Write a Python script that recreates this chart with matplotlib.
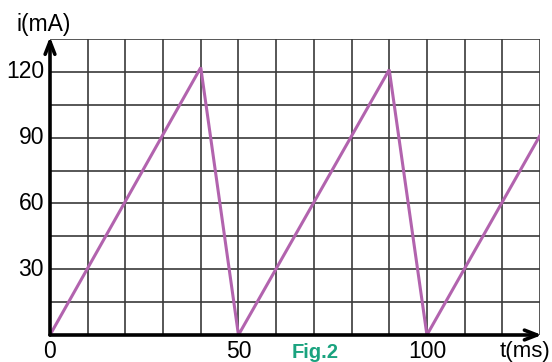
import matplotlib
matplotlib.use("Agg")
import matplotlib.pyplot as plt

# donnees
t_ms = [0, 40, 50, 90, 100, 130]
i_mA = [0, 122, 0, 121, 0, 91]
x_ticks = [0, 50, 100]
y_ticks = [30, 60, 90, 120]

plt.rcParams['font.family'] = ['Liberation Sans', 'DejaVu Sans']

W, H = 552, 362
fig = plt.figure(figsize=(W / 100, H / 100), dpi=100)
# axes: t de 0 a 130 ms -> px 50..540 ; i de 0 a 135 mA -> px 335..39
ax = fig.add_axes([50 / W, (H - 335) / H, 490 / W, 296 / H])
ax.set_xlim(0, 130)
ax.set_ylim(0, 135)

# quadrillage
for x in range(10, 131, 10):
    ax.axvline(x, color='#3a3a3a', lw=1.2, zorder=1)
for y in range(15, 136, 15):
    ax.axhline(y, color='#3a3a3a', lw=1.2, zorder=1)

ax.plot(t_ms, i_mA, color='#b263ae', lw=2.2, solid_joinstyle='miter', zorder=3)

for s in ax.spines.values():
    s.set_visible(False)
ax.set_xticks([])
ax.set_yticks([])

# axes avec fleches
fl = dict(arrowstyle='->,head_length=0.9,head_width=0.35',
          lw=2.6, color='black', shrinkA=0, shrinkB=0)
ax.annotate('', xy=(0, 136), xytext=(0, 0), arrowprops=fl,
            annotation_clip=False, zorder=4)
ax.annotate('', xy=(130.5, 0), xytext=(0, 0), arrowprops=fl,
            annotation_clip=False, zorder=4)

for v in y_ticks:
    ax.text(-1.6, v, str(v), ha='right', va='center', fontsize=16.5, clip_on=False)
for v in x_ticks:
    fig.text((50 + v * 490 / 130) / W, 1 - 352 / H, str(v),
             ha='center', va='center', fontsize=16.5)

fig.text(17 / W, 1 - 25 / H, 'i(mA)', ha='left', va='center', fontsize=16.5)
fig.text(550 / W, 1 - 352 / H, 't(ms)', ha='right', va='center', fontsize=16)
fig.text(315 / W, 1 - 352 / H, 'Fig.2', ha='center', va='center', fontsize=14.5,
         fontweight='bold', color='#1aa37f')

fig.savefig('out.png', dpi=100)
